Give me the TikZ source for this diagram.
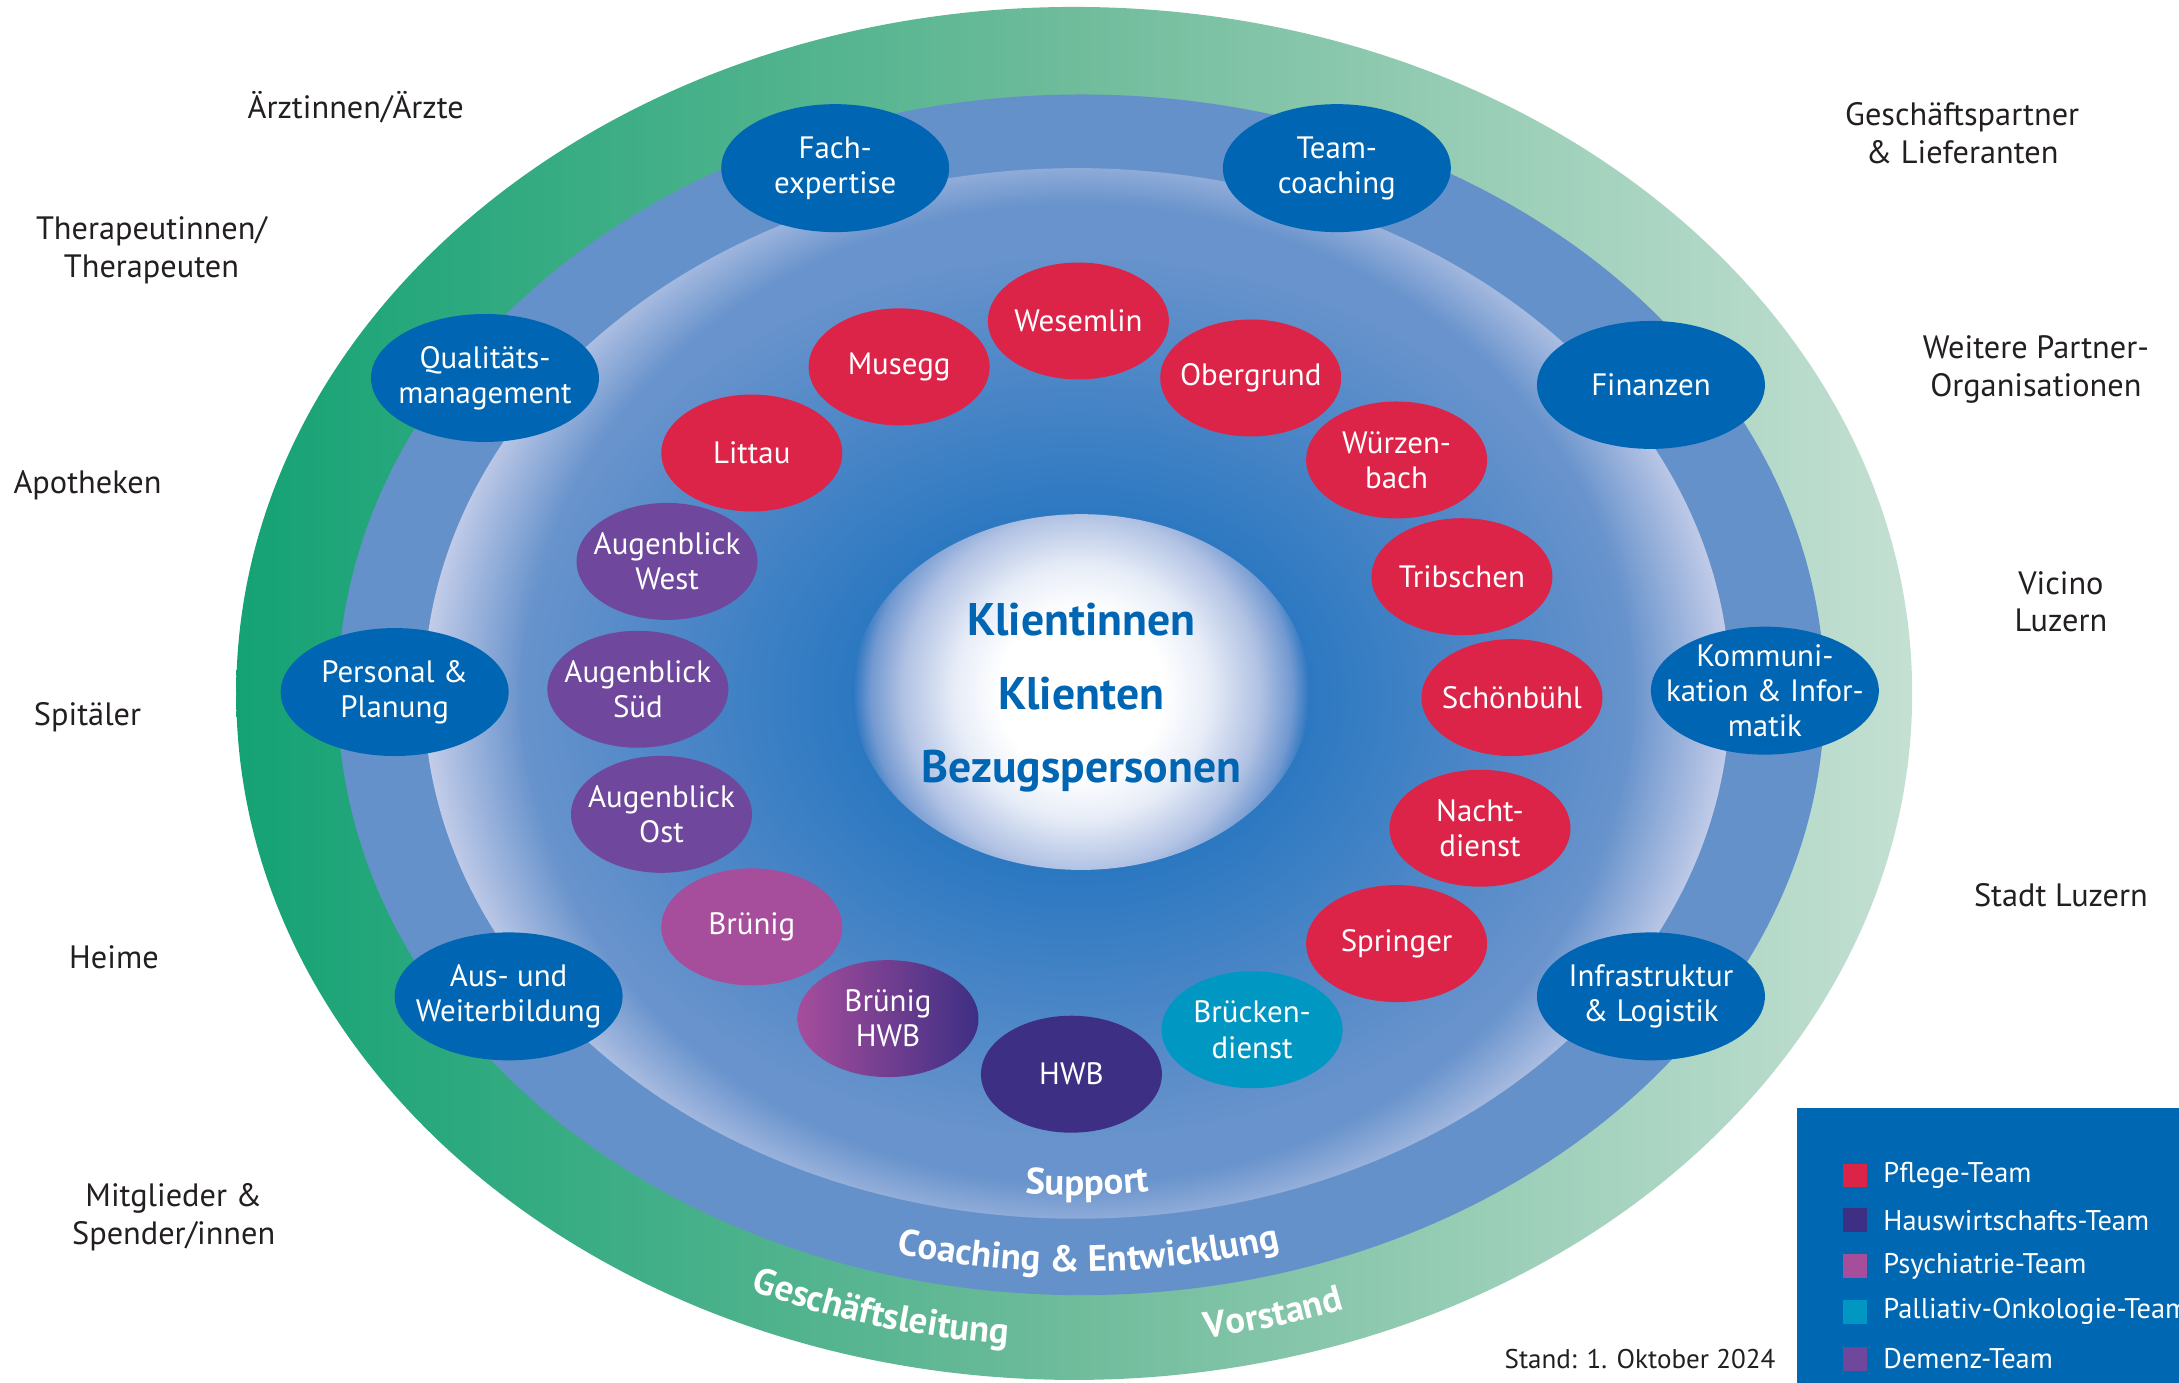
\documentclass[tikz,border=0pt]{standalone}
\usepackage{fontspec}
\setmainfont{PT Sans}
\usetikzlibrary{shapes.geometric,positioning,decorations.text}

\definecolor{unitblue}{HTML}{0066B3}
\definecolor{pflegered}{HTML}{DC2348}
\definecolor{hwbviolet}{HTML}{3D2F84}
\definecolor{psychpink}{HTML}{A64D9C}
\definecolor{palliteal}{HTML}{0098C2}
\definecolor{demenzlila}{HTML}{6F479C}
\definecolor{greendark}{HTML}{14A274}
\definecolor{greenmid}{HTML}{6FBC9B}
\definecolor{greenlight}{HTML}{C4E0D3}
\definecolor{coachblue}{HTML}{6591CA}
\definecolor{ringmid}{HTML}{6893CC}
\definecolor{ringlight}{HTML}{C4CDE9}
\definecolor{innerdark}{HTML}{2B78C1}
\definecolor{corelight}{HTML}{E6ECF7}
\definecolor{corelav}{HTML}{B0C1E3}
\definecolor{coremid}{HTML}{7299D1}
\definecolor{coreedge}{HTML}{2874BF}
\definecolor{partnergray}{HTML}{231F20}
\definecolor{legendblue}{HTML}{0067B2}

\pgfdeclareradialshading{supportglow}{\pgfpoint{0bp}{0bp}}{color(0bp)=(ringmid); color(21.2bp)=(ringmid); color(25bp)=(ringlight); color(50bp)=(ringlight)}
\pgfdeclareradialshading{innerglow}{\pgfpoint{0bp}{0bp}}{color(0bp)=(innerdark); color(10bp)=(innerdark); color(25bp)=(ringmid); color(50bp)=(ringmid)}
\pgfdeclareradialshading{coreglow}{\pgfpoint{0bp}{0bp}}{color(0bp)=(white); color(9bp)=(white); color(14bp)=(corelight); color(19.5bp)=(corelav); color(23bp)=(coremid); color(25bp)=(coreedge); color(50bp)=(coreedge)}

\newcommand{\boxfont}{\fontsize{8.8}{10}\selectfont}
\newcommand{\partnerfont}{\fontsize{9.2}{10.7}\selectfont}
\newcommand{\ringfont}{\bfseries\fontsize{10.5}{12}\selectfont}

\begin{document}
\begin{tikzpicture}[x=0.013897cm, y=0.013897cm,
	unitbox/.style={ellipse, fill=unitblue, text=white, minimum width=2.28cm, minimum height=1.28cm, inner xsep=-9pt, inner ysep=-5pt, align=center, font=\boxfont},
	teambox/.style={ellipse, text=white, minimum width=1.81cm, minimum height=1.17cm, inner xsep=-9pt, inner ysep=-5pt, align=center, font=\boxfont},
	pflege/.style={teambox, fill=pflegered},
	demenz/.style={teambox, fill=demenzlila},
	partner/.style={text=partnergray, align=center, font=\partnerfont},
	legendsq/.style={minimum size=0.236cm, inner sep=0pt},
	legendtext/.style={text=white, inner sep=0pt, font=\fontsize{8.1}{10}\selectfont},
	ringtext/.style={decorate, decoration={text along path, text align=center, text color=white, text={|\ringfont|#1}}}]
	\useasboundingbox (0,0) rectangle (1568,995);

	\shade[left color=greendark, right color=greenlight, middle color=greenmid] (773,496) ellipse (603 and 494);
	\fill[coachblue] (778,495) ellipse (535 and 432);
	\begin{scope}
		\clip (775,496) ellipse (470 and 378);
		\shade[shading=supportglow] (775,496) ellipse (470 and 415);
	\end{scope}
	\shade[shading=innerglow] (775,494) ellipse (402 and 318);
	\begin{scope}
		\clip (778,497) ellipse (165 and 128);
		\shade[shading=coreglow] (778,497) circle (165);
	\end{scope}

	\node[text=unitblue, align=center, font=\bfseries\fontsize{13}{20.8}\selectfont] (klienten) at (778,493) {Klientinnen\\Klienten\\Bezugspersonen};

	\path[ringtext={Support}] (775,496) ++(240:451 and 361) arc[start angle=240, end angle=302, x radius=451, y radius=361];
	\path[ringtext={Coaching {\&} Entwicklung}] (775,496) ++(230:517 and 416) arc[start angle=230, end angle=312, x radius=517, y radius=416];
	\path[ringtext={Geschäftsleitung}] (775,496) ++(225:578 and 470) arc[start angle=225, end angle=285, x radius=578, y radius=470];
	\path[ringtext={Vorstand}] (775,496) ++(269:578 and 470) arc[start angle=269, end angle=300, x radius=578, y radius=470];

	\node[unitbox] (fach) at (601,874) {Fach-\\expertise};
	\node[unitbox] (team) at (962,874) {Team-\\coaching};
	\node[unitbox] (quali) at (349,723) {Qualitäts-\\management};
	\node[unitbox] (finanzen) at (1188,718) {Finanzen};
	\node[unitbox] (personal) at (284,497) {Personal \&\\Planung};
	\node[unitbox] (kommu) at (1270,498) {Kommuni-\\kation \& Infor-\\matik};
	\node[unitbox] (bildung) at (366,278) {Aus- und\\Weiterbildung};
	\node[unitbox] (infra) at (1188,278) {Infrastruktur\\\& Logistik};

	\node[pflege] (wesemlin) at (776,764) {Wesemlin};
	\node[pflege] (musegg) at (647,731) {Musegg};
	\node[pflege] (obergrund) at (900,723) {Obergrund};
	\node[pflege] (littau) at (541,669) {Littau};
	\node[pflege] (wuerzenbach) at (1005,664) {Würzen-\\bach};
	\node[demenz] (awest) at (480,591) {Augenblick\\West};
	\node[pflege] (tribschen) at (1052,580) {Tribschen};
	\node[demenz] (asued) at (459,499) {Augenblick\\Süd};
	\node[pflege] (schoenbuehl) at (1088,493) {Schönbühl};
	\node[demenz] (aost) at (476,409) {Augenblick\\Ost};
	\node[pflege] (nacht) at (1065,399) {Nacht-\\dienst};
	\node[teambox, fill=psychpink] (bruenig) at (541,328) {Brünig};
	\node[pflege] (springer) at (1005,316) {Springer};
	\node[teambox, left color=psychpink, right color=hwbviolet] (bruenighwb) at (639,262) {Brünig\\HWB};
	\node[teambox, fill=hwbviolet] (hwb) at (771,222) {HWB};
	\node[teambox, fill=palliteal] (bruecken) at (901,254) {Brücken-\\dienst};

	\node[partner] (aerzte) at (256,918) {Ärztinnen/Ärzte};
	\node[partner] (therapie) at (109,815) {Therapeutinnen/\\Therapeuten};
	\node[partner] (apotheken) at (63,646) {Apotheken};
	\node[partner] (spitaeler) at (63,479) {Spitäler};
	\node[partner] (heime) at (82,306) {Heime};
	\node[partner] (mitglieder) at (125,119) {Mitglieder \&\\Spender/innen};
	\node[partner] (lieferanten) at (1412,899) {Geschäftspartner\\\& Lieferanten};
	\node[partner] (weitere) at (1465,729) {Weitere Partner-\\Organisationen};
	\node[partner] (vicino) at (1483,562) {Vicino\\Luzern};
	\node[partner] (stadt) at (1483,351) {Stadt Luzern};

	\fill[legendblue] (1293,0) rectangle (1568,198);
	\node[legendsq, fill=pflegered] (kpflege) at (1335,149) {};
	\node[legendsq, fill=hwbviolet] (khwb) at (1335,117) {};
	\node[legendsq, fill=psychpink] (kpsych) at (1335,84) {};
	\node[legendsq, fill=palliteal] (kpalli) at (1335,51) {};
	\node[legendsq, fill=demenzlila] (kdemenz) at (1335,17) {};
	\node[legendtext, right=0.15cm of kpflege] (tpflege) {Pflege-Team};
	\node[legendtext, right=0.15cm of khwb] (thwb) {Hauswirtschafts-Team};
	\node[legendtext, right=0.15cm of kpsych] (tpsych) {Psychiatrie-Team};
	\node[legendtext, right=0.15cm of kpalli] (tpalli) {Palliativ-Onkologie-Team};
	\node[legendtext, right=0.15cm of kdemenz] (tdemenz) {Demenz-Team};

	\node[anchor=east, text=partnergray, inner sep=0pt, font=\fontsize{7.7}{9.2}\selectfont] (stand) at (1278,17) {Stand: 1. Oktober 2024};
\end{tikzpicture}
\end{document}
